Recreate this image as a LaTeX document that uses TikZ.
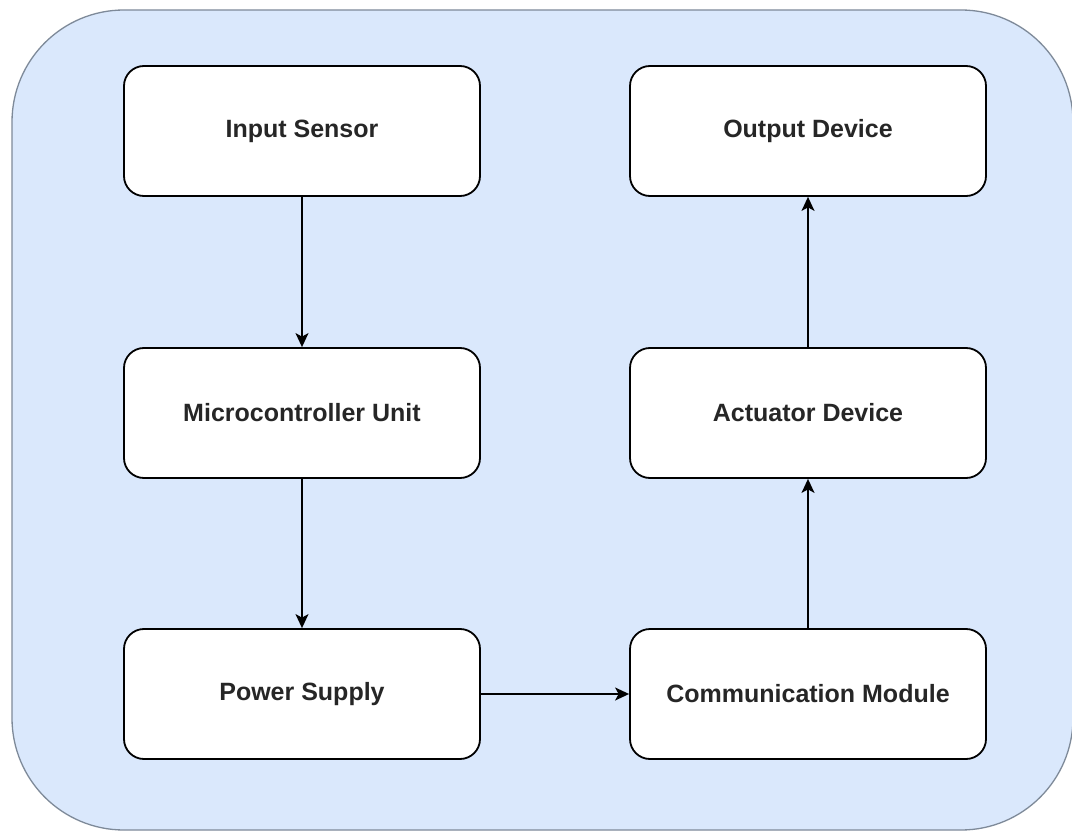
\documentclass[tikz,border=0pt]{standalone}
\usepackage{fontspec}
\setmainfont{Liberation Sans}
\usetikzlibrary{arrows.meta}
\definecolor{panelfill}{HTML}{DAE8FC}
\definecolor{paneldraw}{HTML}{7E8A99}
\tikzset{
  blockbox/.style={draw=black, line width=1.8pt, fill=white, rounded corners=20pt,
    minimum width=356pt, minimum height=130pt, inner sep=0pt,
    font=\fontsize{25}{30}\selectfont\bfseries, text=black!85},
  flow/.style={line width=1.5pt, -{Stealth[length=14pt,width=13pt,inset=3.5pt]}}
}
\begin{document}
\begin{tikzpicture}[x=1pt,y=-1pt]
\useasboundingbox (0,0) rectangle (1072,832);
\path[fill=white] (0,0) rectangle (1072,832);
\draw[fill=panelfill, draw=paneldraw, line width=1.3pt, rounded corners=112pt] (12,10) rectangle (1073,830);
\node[blockbox] (in) at (302,131) {Input Sensor};
\node[blockbox] (mcu) at (302,413) {Microcontroller Unit};
\node[blockbox] (pwr) at (302,694) {Power Supply};
\node[blockbox] (out) at (808,131) {Output Device};
\node[blockbox] (act) at (808,413) {Actuator Device};
\node[blockbox] (com) at (808,694) {Communication Module};
\draw[flow] (in) -- (mcu);
\draw[flow] (mcu) -- (pwr);
\draw[flow] (pwr) -- (com);
\draw[flow] (com) -- (act);
\draw[flow] (act) -- (out);
\end{tikzpicture}
\end{document}
